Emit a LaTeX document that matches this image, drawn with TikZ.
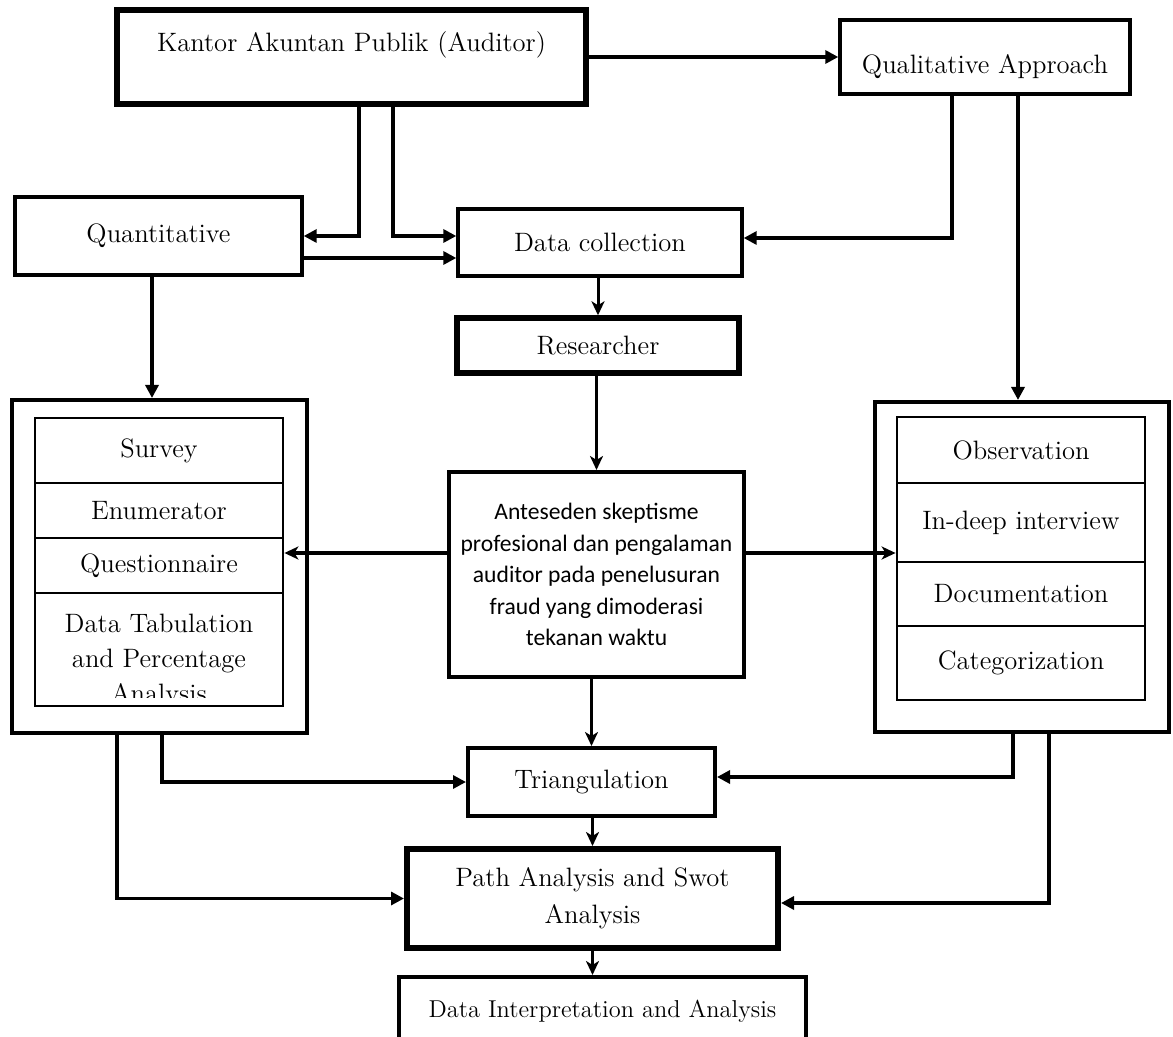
\documentclass[tikz,border=0pt]{standalone}
\usepackage{fontspec}
\newfontfamily\calibri{Carlito}
\usetikzlibrary{arrows.meta, calc}
\newcommand{\lbl}{\fontsize{13.3}{17.5}\selectfont}
\tikzset{
  box/.style     ={rectangle, draw, line width=1.7pt, fill=white, font=\lbl,
                   align=center, inner sep=2pt},
  thickbox/.style={box, line width=3pt},
  outbox/.style  ={rectangle, draw, line width=2pt},
  rowbox/.style  ={box, line width=1.4pt},
  arr/.style     ={-{Triangle[length=6.5pt,width=6.5pt]}, line width=1.6pt},
  thinarr/.style ={-{Stealth[length=7pt,width=6.5pt,inset=2pt]}, line width=1.5pt},
}

\begin{document}
\begin{tikzpicture}[x=0.5pt, y=-0.5pt]
\clip (0,0) rectangle (1173,1037);
\fill[white] (0,0) rectangle (1173,1037);

% top row
\node[thickbox, minimum width=234.5pt, minimum height=47pt, text height=9.75pt, text depth=14.75pt] (kantor) at (351.5,57)
  {Kantor Akuntan Publik (Auditor)};
\node[box, minimum width=145pt, minimum height=37pt, text height=19.5pt, text depth=2.5pt] (qual) at (985,57)
  {Qualitative Approach};

\node[box, minimum width=143.5pt, minimum height=39pt] (quant) at (158.5,236) {Quantitative};
\node[box, minimum width=142pt, minimum height=33.5pt] (dcoll) at (600,242.5) {Data collection};
\node[thickbox, line width=2.7pt, minimum width=141pt, minimum height=27.5pt] (resea) at (598,345.5) {Researcher};

\node[box, line width=2pt, minimum width=147.5pt, minimum height=102.5pt,
      font=\calibri\fontsize{11.8}{15.75}\selectfont] (antes) at (596.5,574.5)
  {Anteseden skeptisme\\profesional dan pengalaman\\auditor pada penelusuran\\fraud yang dimoderasi\\tekanan waktu};

% quantitative table
\node[outbox, minimum width=147.5pt, minimum height=166.5pt] (leftout) at (159.5,566.5) {};
\node[rowbox, minimum width=124pt, minimum height=32.5pt] (survey) at (159,450.5) {Survey};
\node[rowbox, minimum width=124pt, minimum height=27.5pt] (enum) at (159,510.5) {Enumerator};
\node[rowbox, minimum width=124pt, minimum height=27.5pt] (quest) at (159,565.5) {Questionnaire};
\begin{scope}
  \clip (35,594) rectangle (283,697);
  \node[font=\lbl, align=center, anchor=north, inner sep=0pt] (tabtext) at (159,614)
    {Data Tabulation\\and Percentage\\Analysis};
\end{scope}
\node[rowbox, fill=none, minimum width=124pt, minimum height=56.5pt] (tabul) at (159,649.5) {};

% qualitative table
\node[outbox, minimum width=147pt, minimum height=165pt] (rightout) at (1022,567) {};
\node[rowbox, minimum width=124pt, minimum height=33pt] (obs) at (1021,450) {Observation};
\node[rowbox, minimum width=124pt, minimum height=39.5pt] (indeep) at (1021,522.5) {In-deep interview};
\node[rowbox, minimum width=124pt, minimum height=32pt] (docu) at (1021,594) {Documentation};
\node[rowbox, minimum width=124pt, minimum height=37pt] (categ) at (1021,663) {Categorization};

% bottom
\node[box, line width=2pt, minimum width=123.5pt, minimum height=34pt] (triang) at (591.5,782) {Triangulation};
\node[thickbox, minimum width=185.5pt, minimum height=49.5pt, font=\fontsize{13.3}{18.5}\selectfont] (pathsw) at (592.5,898.5)
  {Path Analysis and Swot\\Analysis};
\node[box, line width=2pt, minimum width=203.5pt, minimum height=34pt, font=\fontsize{12.2}{15}\selectfont] (interp) at (602.5,1011)
  {Data Interpretation and Analysis};

% connectors
\draw[arr] (kantor.east) -- (qual.west);
\draw[arr] (359,0 |- kantor.south) |- (quant.east);
\draw[arr] (393,0 |- kantor.south) |- (dcoll.west |- 0,236);
\draw[arr] (quant.east |- 0,258) -- (dcoll.west |- 0,258);
\draw[arr] (952,0 |- qual.south) |- (dcoll.east |- 0,238);
\draw[arr] (1018,0 |- qual.south) -- (1018,0 |- rightout.north);
\draw[arr] (152,0 |- quant.south) -- (152,0 |- leftout.north);
\draw[thinarr] (resea.north |- dcoll.south) -- (resea.north);
\draw[thinarr] (antes.north |- resea.south) -- (antes.north);
\coordinate (split) at (596,553);
\draw[thinarr] (antes.west |- split) -- (quest.east |- split);
\draw[thinarr] (antes.east |- split) -- (indeep.west |- split);
\draw[thinarr] (triang.north |- antes.south) -- (triang.north);
\draw[arr] (162,0 |- leftout.south) |- (triang.west);
\draw[arr] (1013,0 |- rightout.south) |- (triang.east |- 0,777);
\draw[thinarr] (pathsw.north |- triang.south) -- (pathsw.north);
\draw[arr] (117,0 |- leftout.south) |- (pathsw.west);
\draw[arr] (1049,0 |- rightout.south) |- (pathsw.east |- 0,903);
\draw[thinarr] (pathsw.south) -- (pathsw.south |- interp.north);
\end{tikzpicture}
\end{document}
